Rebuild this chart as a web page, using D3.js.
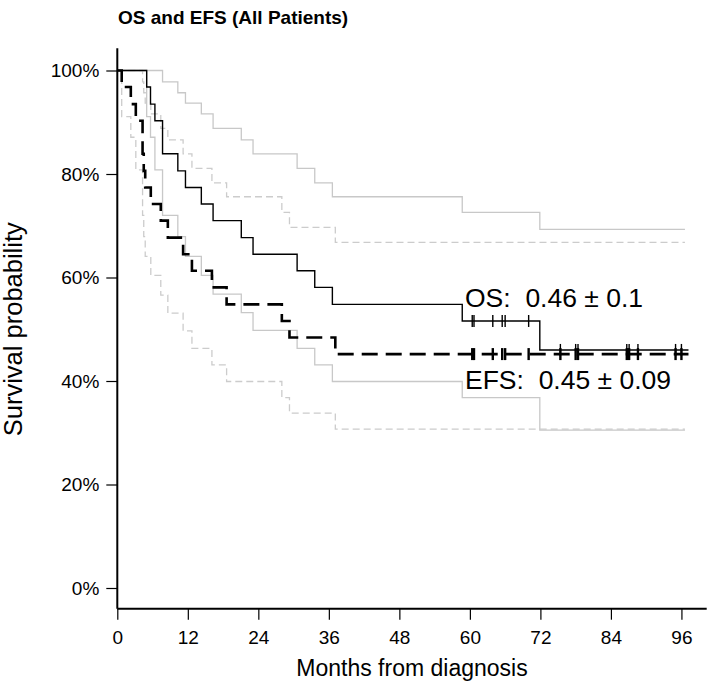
<!DOCTYPE html>
<html>
<head>
<meta charset="utf-8">
<script src="https://cdn.jsdelivr.net/npm/d3@7"></script>
<style>
  body { margin: 0; background: #fff; }
  text { font-family: "Liberation Sans", Arial, sans-serif; }
</style>
</head>
<body>
<div class="km"></div>
<script>
const width = 709
const height = 693

// Kaplan-Meier steps (months, survival after the step)
const osTime  = [0, 5.0, 5.65, 6.4, 7.7, 10.3, 11.6, 14.3, 16.3, 21.1, 23.1, 30.6, 33.6, 36.6, 58.7, 71.9];
const osSurv  = [1, .968, .935, .903, .839, .806, .774, .742, .710, .677, .645, .613, .581, .548, .516, .46];
const osUpper = [1, 1, 1, 1, .978, .957, .937, .916, .888, .866, .839, .811, .783, .756, .726, .693];
const osLower = [1, .911, .871, .808, .72, .679, .641, .604, .568, .532, .498, .463, .431, .399, .368, .305];

const efsTime  = [0, 0.75, 2.3, 3.15, 4.3, 4.5, 4.75, 5.7, 7.4, 8.6, 11.2, 12.7, 16.1, 18.6, 28.0, 29.3, 37.1];
const efsSurv  = [1, .968, .935, .903, .839, .806, .774, .742, .710, .677, .645, .613, .581, .548, .516, .484, .452];
const efsUpper = [1, 1, 1, 1, .978, .957, .937, .916, .888, .866, .839, .811, .783, .756, .726, .697, .668];
const efsLower = [1, .911, .871, .808, .72, .679, .641, .604, .566, .531, .497, .463, .431, .399, .368, .338, .307];

const censorTimes = [60.4, 60.7, 63.9, 65.5, 66.0, 70.0, 75.4, 78.0, 78.4, 86.7, 87.1, 88.6, 95.0, 96.0];
const endTime = 97.2
const ciEnd = 96.6

const xTicks = [0, 12, 24, 36, 48, 60, 72, 84, 96];
const yTicks = [0, 0.2, 0.4, 0.6, 0.8, 1];

const osLabel = "OS:  0.46 \u00b1 0.1"
const efsLabel = "EFS:  0.45 \u00b1 0.09"

const x = d3.scaleLinear().domain([0, 100.3]).range([117.3, 706.7]);
const y = d3.scaleLinear().domain([0, 1]).range([588, 70.5]);

const svg = d3.create("svg")
  .attr("width", width)
  .attr("height", height)
  .attr("viewBox", [0, 0, width, height]);

function steps(times, vals, end) {
  const pts = times.map((t, i) => [t, vals[i]]);
  pts.push([end, vals[vals.length - 1]]);
  return pts;
}

const line = d3.line()
  .curve(d3.curveStepAfter)
  .x(d => x(d[0]))
  .y(d => y(d[1]));

const curves = [
  {pts: steps(osTime, osUpper, ciEnd), stroke: "#c8c8c8", w: 1.3, dash: null},
  {pts: steps(osTime, osLower, ciEnd), stroke: "#c8c8c8", w: 1.3, dash: null},
  {pts: steps(efsTime, efsUpper, ciEnd), stroke: "#cccccc", w: 1.3, dash: "7,4"},
  {pts: steps(efsTime, efsLower, ciEnd), stroke: "#cccccc", w: 1.3, dash: "7,4"},
  {pts: steps(osTime, osSurv, endTime), stroke: "#000", w: 1.4, dash: null},
  {pts: steps(efsTime, efsSurv, endTime), stroke: "#000", w: 2.6, dash: "16,8"}
];

svg.append("g")
  .selectAll("path")
  .data(curves)
  .join("path")
  .attr("fill", "none")
  .attr("stroke", d => d.stroke)
  .attr("stroke-width", d => d.w)
  .attr("stroke-dasharray", d => d.dash)
  .attr("d", d => line(d.pts));

// censor marks
function survAt(times, vals, t) {
  const i = d3.bisectRight(times, t) - 1;
  return vals[i];
}

svg.append("g")
  .selectAll("line")
  .data(censorTimes)
  .join("line")
  .attr("x1", d => x(d)).attr("x2", d => x(d))
  .attr("y1", d => y(survAt(osTime, osSurv, d)) - 6)
  .attr("y2", d => y(survAt(osTime, osSurv, d)) + 6)
  .attr("stroke", "#000")
  .attr("stroke-width", 1.4);

svg.append("g")
  .selectAll("line")
  .data(censorTimes)
  .join("line")
  .attr("x1", d => x(d)).attr("x2", d => x(d))
  .attr("y1", d => y(survAt(efsTime, efsSurv, d)) - 6)
  .attr("y2", d => y(survAt(efsTime, efsSurv, d)) + 6)
  .attr("stroke", "#000")
  .attr("stroke-width", 2.4);

// axes
const xAxis = svg.append("g")
  .attr("transform", `translate(0,${y(-0.04)})`)
  .call(d3.axisBottom(x).tickValues(xTicks).tickSize(11).tickPadding(11).tickSizeOuter(0));
xAxis.select(".domain").attr("stroke-width", 2).attr("d", `M${x(0)},0H${x(100.3)}`);

const yAxis = svg.append("g")
  .attr("transform", `translate(${x(0)},0)`)
  .call(d3.axisLeft(y).tickValues(yTicks).tickFormat(d3.format(".0%")).tickSize(11).tickPadding(7).tickSizeOuter(0));
yAxis.select(".domain").attr("stroke-width", 2).attr("d", `M0,${y(1.043)}V${y(-0.04)}`);

svg.selectAll(".tick text")
  .style("font-size", "19px")
  .attr("fill", "#000");
svg.selectAll(".tick line").attr("stroke-width", 1.2);

svg.append("text")
  .attr("x", (x(0) + x(100.3)) / 2)
  .attr("y", 676)
  .attr("text-anchor", "middle")
  .style("font-size", "23px")
  .text("Months from diagnosis");

svg.append("text")
  .attr("transform", `translate(22,${y(0.5)}) rotate(-90)`)
  .attr("text-anchor", "middle")
  .style("font-size", "25.5px")
  .text("Survival probability");

svg.append("text")
  .attr("x", 118)
  .attr("y", 24)
  .style("font", "bold 19px 'Liberation Sans', Arial, sans-serif")
  .text("OS and EFS (All Patients)");

svg.append("text")
  .attr("x", 465)
  .attr("y", 307)
  .style("font-size", "26.5px")
  .style("white-space", "pre")
  .text(osLabel);

svg.append("text")
  .attr("x", 465)
  .attr("y", 389)
  .style("font-size", "26.5px")
  .style("white-space", "pre")
  .text(efsLabel);

document.querySelector(".km").append(svg.node());
</script>
</body>
</html>
